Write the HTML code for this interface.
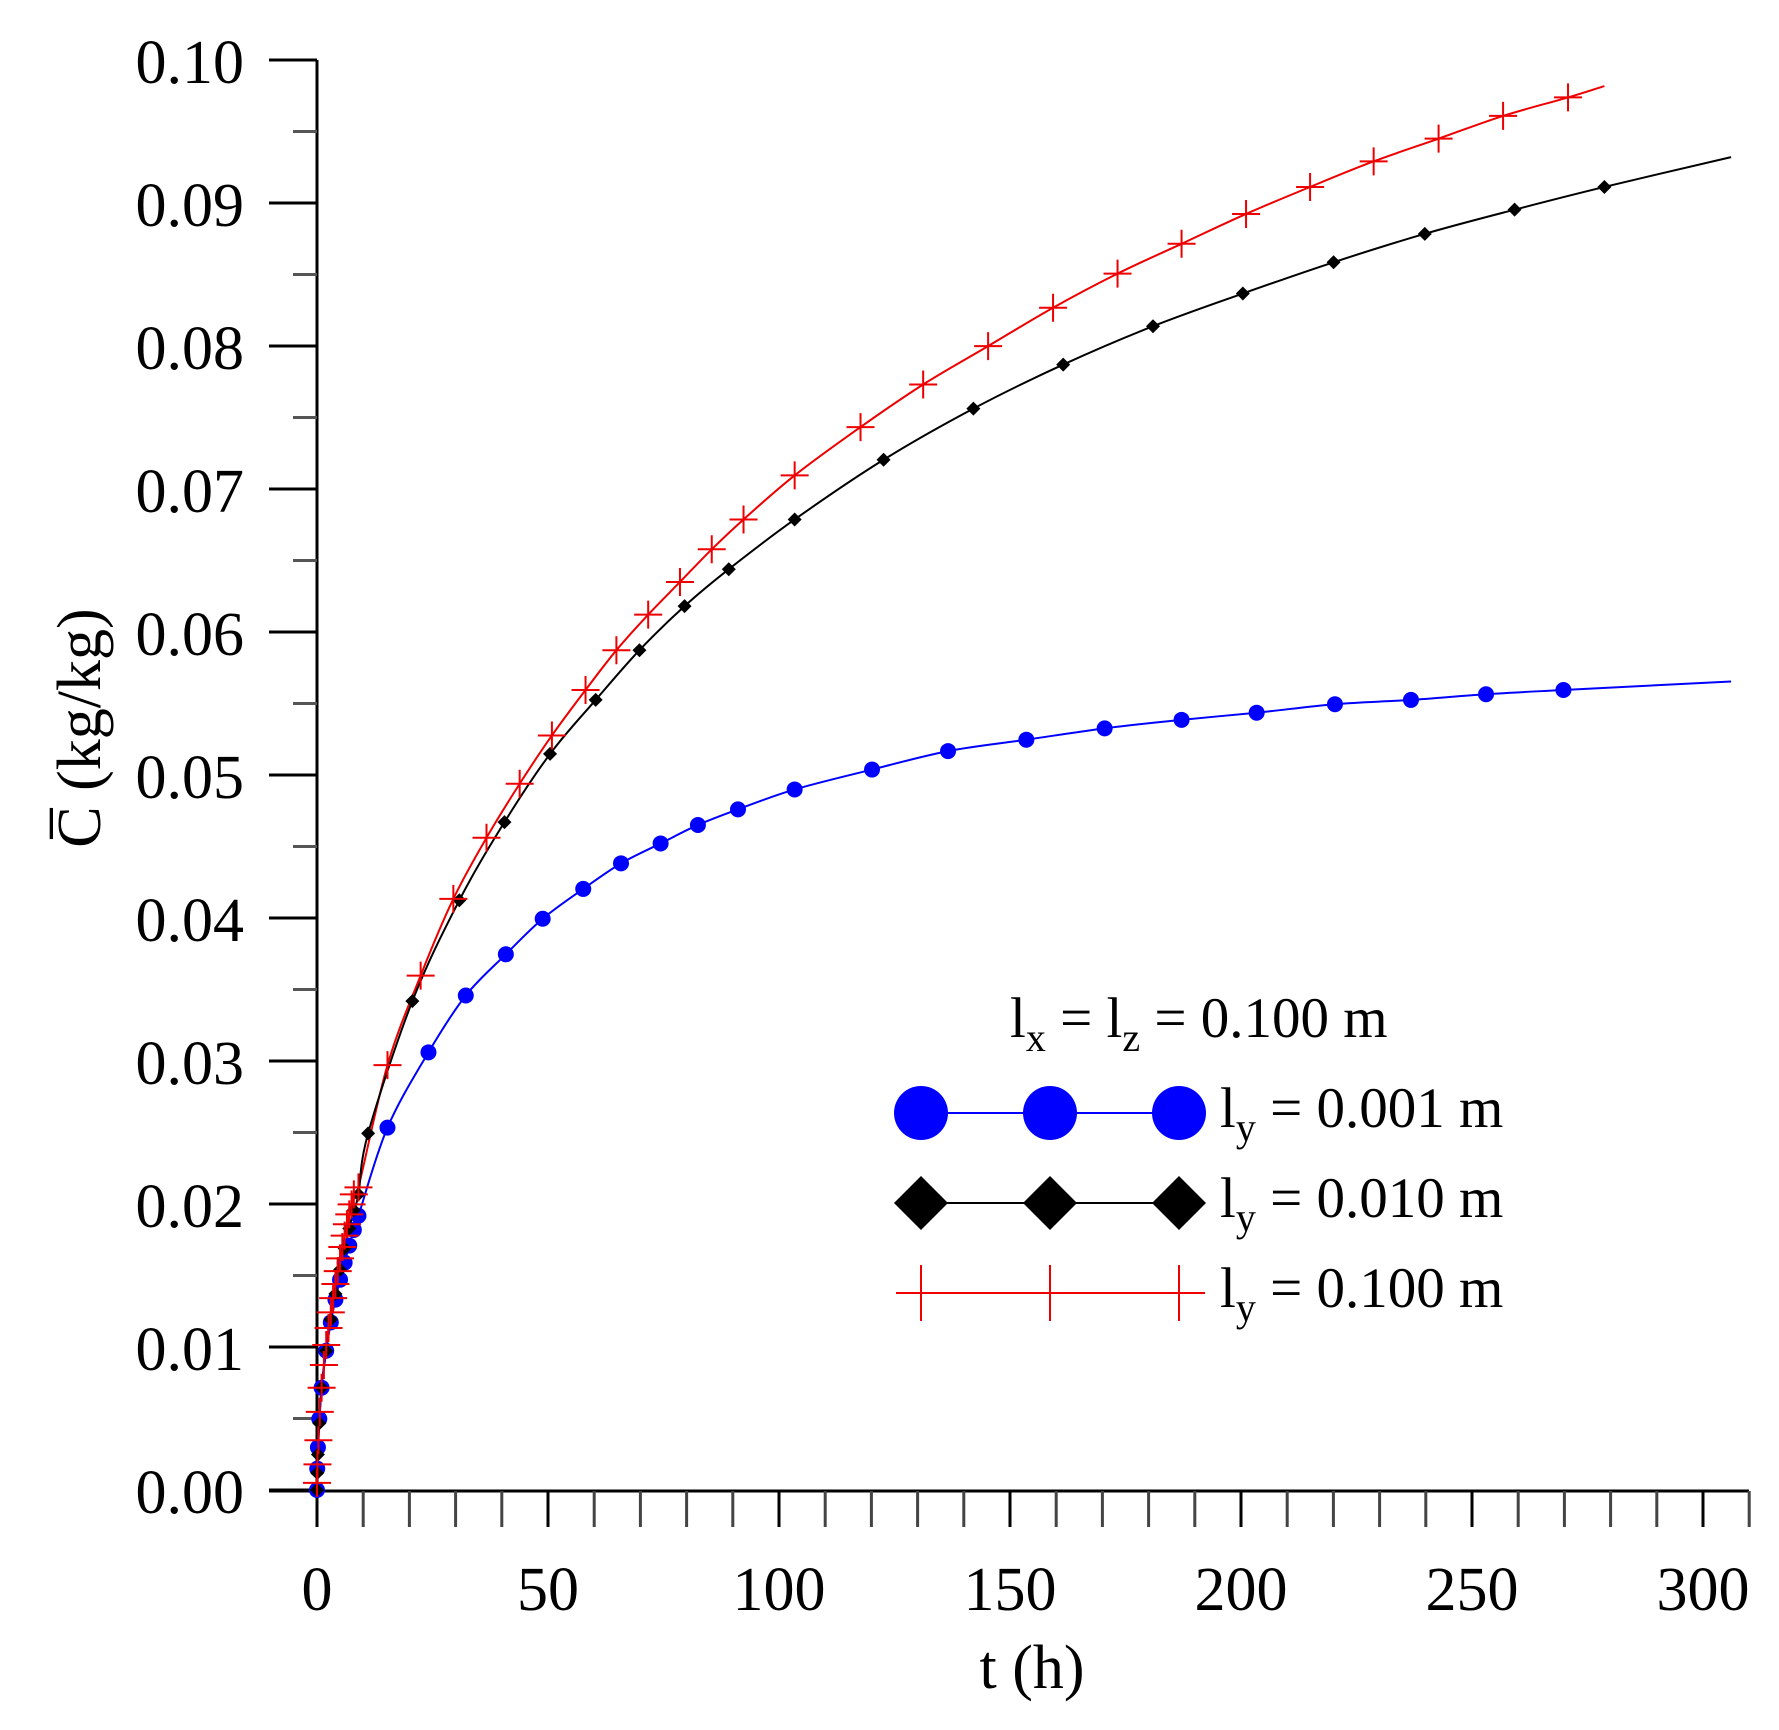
<!DOCTYPE html>
<html><head><meta charset="utf-8"><style>
html,body{margin:0;padding:0;background:#fff}
svg{display:block}
text{font-family:"Liberation Serif",serif;fill:#000}
</style></head><body>
<svg id="s" width="1779" height="1730" viewBox="0 0 1779 1730" xmlns="http://www.w3.org/2000/svg">
<g id="axes" stroke="#000" stroke-width="3" fill="none"></g>
<g font-size="62" text-anchor="end">
<text x="244" y="83">0.10</text><text x="244" y="226">0.09</text><text x="244" y="369">0.08</text>
<text x="244" y="512">0.07</text><text x="244" y="655">0.06</text><text x="244" y="798">0.05</text>
<text x="244" y="941">0.04</text><text x="244" y="1084">0.03</text><text x="244" y="1227">0.02</text>
<text x="244" y="1370">0.01</text><text x="244" y="1513">0.00</text>
</g>
<g font-size="62" text-anchor="middle">
<text x="317" y="1610">0</text><text x="548" y="1610">50</text><text x="779" y="1610">100</text>
<text x="1010" y="1610">150</text><text x="1241" y="1610">200</text><text x="1472" y="1610">250</text>
<text x="1703" y="1610">300</text>
<text x="1032" y="1688">t (h)</text>
<text transform="translate(100,728) rotate(-90)">C̅ (kg/kg)</text>
</g>
<g id="series"></g>
<g font-size="57">
<text x="1010" y="1037">l<tspan font-size="40" dy="14">x</tspan><tspan dy="-14"> = l</tspan><tspan font-size="40" dy="14">z</tspan><tspan dy="-14"> = 0.100 m</tspan></text>
<text x="1220" y="1127">l<tspan font-size="40" dy="14">y</tspan><tspan dy="-14"> = 0.001 m</tspan></text>
<text x="1220" y="1217">l<tspan font-size="40" dy="14">y</tspan><tspan dy="-14"> = 0.010 m</tspan></text>
<text x="1220" y="1307">l<tspan font-size="40" dy="14">y</tspan><tspan dy="-14"> = 0.100 m</tspan></text>
</g>
<g>
<line x1="921" y1="1113" x2="1179" y2="1113" stroke="#00f" stroke-width="2"/>
<circle cx="921" cy="1113" r="27" fill="#00f"/><circle cx="1050" cy="1113" r="27" fill="#00f"/><circle cx="1179" cy="1113" r="27" fill="#00f"/>
<line x1="921" y1="1203" x2="1179" y2="1203" stroke="#000" stroke-width="2"/>
<path d="M894 1203 L921 1176 L948 1203 L921 1230Z M1023 1203 L1050 1176 L1077 1203 L1050 1230Z M1152 1203 L1179 1176 L1206 1203 L1179 1230Z" fill="#000"/>
<path d="M896 1293 H1205 M921 1265 V1321 M1050 1265 V1321 M1179 1265 V1321" stroke="#e00" stroke-width="2" fill="none"/>
</g>
</svg>
<script>
var NS="http://www.w3.org/2000/svg";
function X(t){return 317+t*0.997*4.62}
function Y(c){return 1490-c*0.9937*14300}
function XA(t){return 317+t*4.62}
var ax=document.getElementById('axes');
function ln(x1,y1,x2,y2,c){var l=document.createElementNS(NS,'line');l.setAttribute('x1',x1);l.setAttribute('y1',y1);l.setAttribute('x2',x2);l.setAttribute('y2',y2);if(c)l.setAttribute('stroke',c);ax.appendChild(l);}
ln(317,60,317,1491);ln(269,1491,1749,1491);
for(var i=0;i<=20;i++){var y=60+i*71.5;ln(i%2?293:269,y,317,y,i%2?'#555':null);}
for(var t=0;t<=310;t+=10){var x=XA(t);ln(x,1491,x,1527,(t%50)?'#444':null);}
var blue=[[0,0],[0.05,0.0015],[0.2,0.003],[0.5,0.005],[1,0.0072],[2,0.0098],[3,0.0118],[4,0.0134],[5,0.0148],[6,0.016],[7,0.0172],[8,0.0183],[9,0.0193],[15.3,0.0255],[24.2,0.0308],[32.3,0.0348],[41,0.0377],[49,0.0402],[57.8,0.0423],[66,0.0441],[74.6,0.0455],[82.7,0.0468],[91.4,0.0479],[103.7,0.0493],[120.5,0.0507],[137,0.052],[154,0.0528],[171,0.0536],[187.7,0.0542],[204,0.0547],[221,0.0553],[237.5,0.0556],[253.8,0.056],[270.6,0.0563],[307,0.0569]];
var black=[[0,0],[0.05,0.0012],[0.2,0.0025],[0.5,0.0047],[1,0.0072],[2,0.0098],[3,0.012],[4,0.0138],[5,0.0155],[6,0.017],[7,0.0184],[8,0.0197],[9,0.0208],[11.1,0.0251],[20.7,0.0344],[30.9,0.0415],[40.7,0.047],[50.6,0.0518],[60.5,0.0556],[70,0.0591],[79.8,0.0622],[89.4,0.0648],[103.7,0.0683],[123,0.0725],[142.5,0.0761],[162,0.0792],[181.5,0.0819],[201,0.0842],[220.7,0.0864],[240.5,0.0884],[260,0.0901],[279.5,0.0917],[307,0.0938]];
var red=[[0,0.0005],[0.1,0.0018],[0.3,0.0035],[0.6,0.0055],[1,0.0072],[1.5,0.0088],[2,0.0102],[2.5,0.0114],[3,0.0125],[3.5,0.0135],[4,0.0145],[4.5,0.0154],[5,0.0163],[5.5,0.0171],[6,0.0179],[6.5,0.0187],[7,0.0194],[7.5,0.0201],[8,0.0208],[9,0.0213],[15.3,0.0299],[22.5,0.0362],[29.6,0.0416],[36.8,0.0459],[44,0.0497],[51,0.0531],[58.3,0.0563],[65,0.0591],[71.9,0.0616],[78.8,0.0639],[85.7,0.0662],[92.6,0.0683],[103.7,0.0714],[118,0.0748],[131.6,0.0778],[145.7,0.0805],[159.8,0.0832],[173.8,0.0856],[187.7,0.0877],[201.7,0.0898],[215.6,0.0917],[229.4,0.0935],[243.5,0.0951],[257.5,0.0967],[271.6,0.098],[279.5,0.0988]];
var g=document.getElementById('series');
function path(d,col){var p=document.createElementNS(NS,'path');var pts=d.map(function(a){return [X(a[0]),Y(a[1])]});
var s='M'+pts[0][0]+' '+pts[0][1];for(var i=0;i<pts.length-1;i++){var p0=pts[Math.max(0,i-1)],p1=pts[i],p2=pts[i+1],p3=pts[Math.min(pts.length-1,i+2)];
s+=' C'+(p1[0]+(p2[0]-p0[0])/6)+' '+(p1[1]+(p2[1]-p0[1])/6)+' '+(p2[0]-(p3[0]-p1[0])/6)+' '+(p2[1]-(p3[1]-p1[1])/6)+' '+p2[0]+' '+p2[1];}
p.setAttribute('d',s);p.setAttribute('fill','none');p.setAttribute('stroke',col);p.setAttribute('stroke-width','2');g.appendChild(p);}
function el(tag,attrs){var e=document.createElementNS(NS,tag);for(var k in attrs)e.setAttribute(k,attrs[k]);g.appendChild(e);}
path(red,'#e00');path(black,'#000');path(blue,'#00f');
blue.slice(0,-1).forEach(function(a){el('circle',{cx:X(a[0]),cy:Y(a[1]),r:8,fill:'#00f'})});
black.slice(0,-1).forEach(function(a){var x=X(a[0]),y=Y(a[1]);el('path',{d:'M'+(x-7)+' '+y+'L'+x+' '+(y-7)+'L'+(x+7)+' '+y+'L'+x+' '+(y+7)+'Z',fill:'#000'})});
red.slice(0,-1).forEach(function(a){var x=X(a[0]),y=Y(a[1]);el('path',{d:'M'+(x-14)+' '+y+'H'+(x+14)+'M'+x+' '+(y-14)+'V'+(y+14),stroke:'#e00','stroke-width':2,fill:'none'})});
</script>
</body></html>
